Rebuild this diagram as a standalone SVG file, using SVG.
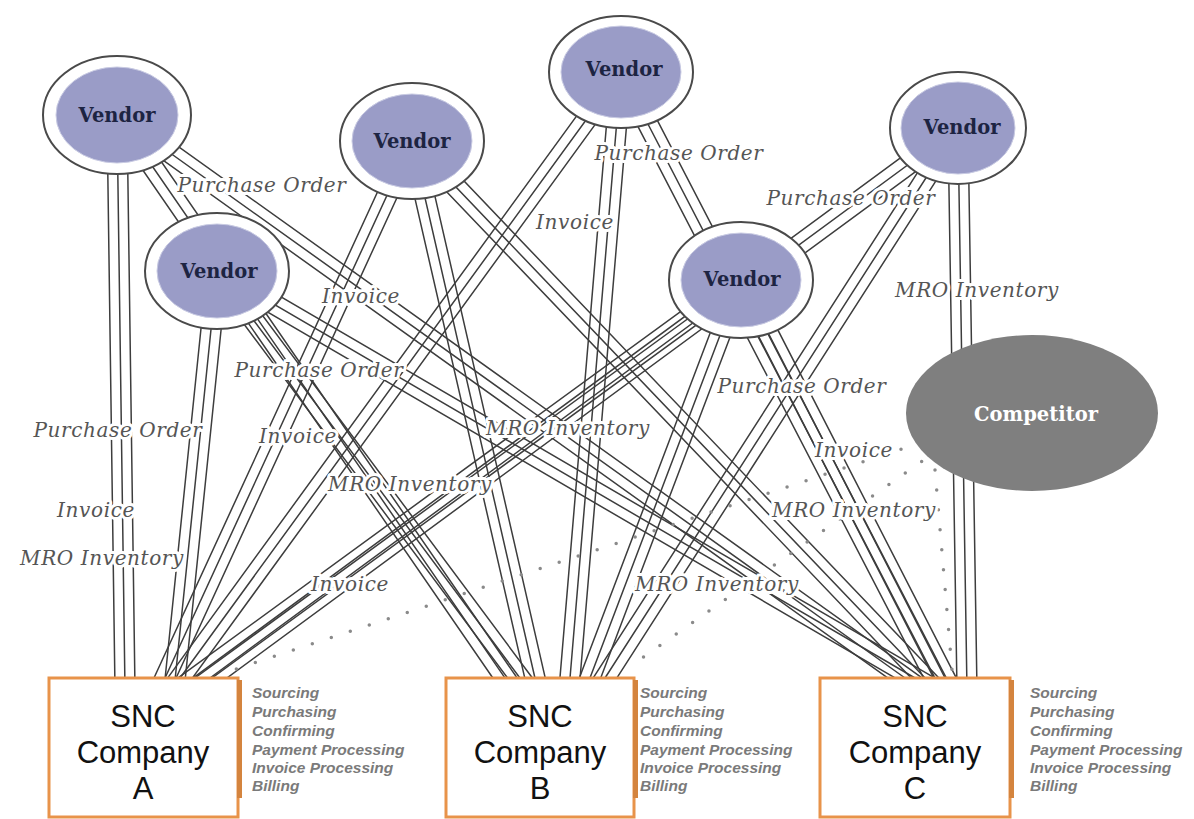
<svg xmlns="http://www.w3.org/2000/svg" width="1194" height="819" viewBox="0 0 1194 819">
<style>
.c{stroke:#3d3d3d;stroke-width:1.5;fill:none}
.d{stroke:#8a8a8a;stroke-width:3.5;stroke-linecap:round;stroke-dasharray:0 20;fill:none}
.vo{fill:#fff;stroke:#4a4a4a;stroke-width:2}
.vi{fill:#9a9cc7;stroke:#c9cbe3;stroke-width:1}
.vt{font-family:"DejaVu Serif",serif;font-weight:bold;font-size:19.5px;fill:#1d2442;text-anchor:middle}
.lbl{font-family:"DejaVu Serif",serif;font-style:italic;font-size:20px;letter-spacing:0.6px;fill:#555;stroke:#fff;stroke-width:6;paint-order:stroke;stroke-linejoin:round;text-anchor:middle}
.box{fill:#fff;stroke:#e8934a;stroke-width:3}
.sh{fill:#d4843e}
.bt{font-family:"Liberation Sans",Arial,sans-serif;font-size:31px;fill:#111;text-anchor:middle}
.st{font-family:"Liberation Sans",Arial,sans-serif;font-style:italic;font-weight:bold;font-size:15.5px;fill:#7a7a7a}
</style>
<rect width="1194" height="819" fill="#fff"/>
<g id="connectors">
<path class="c" d="M107,115L115,690M117,115L125,690M127,115L135,690"/>
<path class="c" d="M207,270L164,689M217,271L174,690M227,272L184,691"/>
<path class="c" d="M402.9,136.8L150.4,685.8M412,141L159.5,690M421.1,145.2L168.6,694.2"/>
<path class="c" d="M612.9,66.1L163.2,684.1M621,72L171.3,690M629.1,77.9L179.4,695.9"/>
<path class="c" d="M735.1,271.9L172.6,681.9M741,280L178.5,690M746.9,288.1L184.4,698.1"/>
<path class="c" d="M952.1,119.9L187.8,681.9M958,128L193.7,690M963.9,136.1L199.6,698.1"/>
<path class="c" d="M108.8,120.7L505.1,695.7M117,115L513.3,690M125.2,109.3L521.5,684.3"/>
<path class="c" d="M209,277L520.9,696M217,271L528.9,690M225,265L536.9,684"/>
<path class="c" d="M402.3,143.2L528,692.2M412,141L537.7,690M421.8,138.8L547.5,687.8"/>
<path class="c" d="M611,71.2L559,689.2M621,72L569,690M631,72.8L579,690.8"/>
<path class="c" d="M731.6,276.4L576.1,686.4M741,280L585.4,690M750.4,283.6L594.8,693.6"/>
<path class="c" d="M949.6,122.6L588.9,684.6M958,128L597.3,690M966.4,133.4L605.7,695.4"/>
<path class="c" d="M111.2,123.1L916,698.1M117,115L921.8,690M122.8,106.9L927.6,681.9"/>
<path class="c" d="M212,279.6L930.6,698.6M217,271L935.6,690M222,262.4L940.6,681.4"/>
<path class="c" d="M404.8,147.9L929.3,696.9M412,141L936.5,690M419.2,134.1L943.7,683.1"/>
<path class="c" d="M612.1,76.6L932.3,694.6M621,72L941.2,690M629.9,67.4L950.1,685.4"/>
<path class="c" d="M732.1,284.6L942.3,694.6M741,280L951.2,690M749.9,275.4L960.1,685.4"/>
<path class="c" d="M948,128L957,690M958,128L967,690M968,128L977,690"/>
<path class="d" d="M920,443L233,670"/>
<path class="d" d="M938,450L628,668"/>
<path class="d" d="M935,470L952,670"/>
</g>
<g id="vendor1"><ellipse class="vo" cx="117" cy="115" rx="74" ry="59"/><ellipse class="vi" cx="117" cy="115" rx="61" ry="48"/><text class="vt" x="117" y="122">Vendor</text></g>
<g id="vendor2"><ellipse class="vo" cx="217" cy="271" rx="72" ry="58"/><ellipse class="vi" cx="217" cy="271" rx="60" ry="47"/><text class="vt" x="219" y="278">Vendor</text></g>
<g id="vendor3"><ellipse class="vo" cx="412" cy="141" rx="72" ry="58"/><ellipse class="vi" cx="412" cy="141" rx="60" ry="47"/><text class="vt" x="412" y="148">Vendor</text></g>
<g id="vendor4"><ellipse class="vo" cx="621" cy="72" rx="72" ry="56"/><ellipse class="vi" cx="621" cy="72" rx="60" ry="46"/><text class="vt" x="624" y="76">Vendor</text></g>
<g id="vendor5"><ellipse class="vo" cx="741" cy="280" rx="72" ry="58"/><ellipse class="vi" cx="741" cy="280" rx="60" ry="47"/><text class="vt" x="742" y="286">Vendor</text></g>
<g id="vendor6"><ellipse class="vo" cx="958" cy="128" rx="68" ry="56"/><ellipse class="vi" cx="958" cy="128" rx="57" ry="46"/><text class="vt" x="962" y="134">Vendor</text></g>
<g id="competitor"><ellipse cx="1032" cy="413" rx="126" ry="78" fill="#7f7f7f"/><text class="vt" x="1036" y="421" style="fill:#fff">Competitor</text></g>
<g id="labels">
<text class="lbl" x="262" y="192">Purchase Order</text>
<text class="lbl" x="679" y="160">Purchase Order</text>
<text class="lbl" x="575" y="229">Invoice</text>
<text class="lbl" x="851" y="205">Purchase Order</text>
<text class="lbl" x="977" y="297">MRO Inventory</text>
<text class="lbl" x="361" y="303">Invoice</text>
<text class="lbl" x="319" y="377">Purchase Order</text>
<text class="lbl" x="802" y="393">Purchase Order</text>
<text class="lbl" x="118" y="437">Purchase Order</text>
<text class="lbl" x="298" y="443">Invoice</text>
<text class="lbl" x="568" y="435">MRO Inventory</text>
<text class="lbl" x="854" y="457">Invoice</text>
<text class="lbl" x="410" y="491">MRO Inventory</text>
<text class="lbl" x="854" y="517">MRO Inventory</text>
<text class="lbl" x="96" y="517">Invoice</text>
<text class="lbl" x="102" y="565">MRO Inventory</text>
<text class="lbl" x="350" y="591">Invoice</text>
<text class="lbl" x="717" y="591">MRO Inventory</text>
</g>
<g id="companyA"><rect class="box" x="49" y="678" width="189" height="139"/><rect class="sh" x="237" y="680" width="5" height="118"/>
<text class="bt" x="143" y="727">SNC</text><text class="bt" x="143" y="763">Company</text><text class="bt" x="143" y="799">A</text>
<text class="st" x="252"><tspan x="252" y="698">Sourcing</tspan><tspan x="252" y="717">Purchasing</tspan><tspan x="252" y="736">Confirming</tspan><tspan x="252" y="755">Payment Processing</tspan><tspan x="252" y="773">Invoice Processing</tspan><tspan x="252" y="791">Billing</tspan></text></g>
<g id="companyB"><rect class="box" x="446" y="678" width="188" height="139"/><rect class="sh" x="633" y="680" width="5" height="118"/>
<text class="bt" x="540" y="727">SNC</text><text class="bt" x="540" y="763">Company</text><text class="bt" x="540" y="799">B</text>
<text class="st" x="640"><tspan x="640" y="698">Sourcing</tspan><tspan x="640" y="717">Purchasing</tspan><tspan x="640" y="736">Confirming</tspan><tspan x="640" y="755">Payment Processing</tspan><tspan x="640" y="773">Invoice Processing</tspan><tspan x="640" y="791">Billing</tspan></text></g>
<g id="companyC"><rect class="box" x="820" y="678" width="190" height="139"/><rect class="sh" x="1009" y="680" width="5" height="118"/>
<text class="bt" x="915" y="727">SNC</text><text class="bt" x="915" y="763">Company</text><text class="bt" x="915" y="799">C</text>
<text class="st" x="1030"><tspan x="1030" y="698">Sourcing</tspan><tspan x="1030" y="717">Purchasing</tspan><tspan x="1030" y="736">Confirming</tspan><tspan x="1030" y="755">Payment Processing</tspan><tspan x="1030" y="773">Invoice Processing</tspan><tspan x="1030" y="791">Billing</tspan></text></g>
</svg>
